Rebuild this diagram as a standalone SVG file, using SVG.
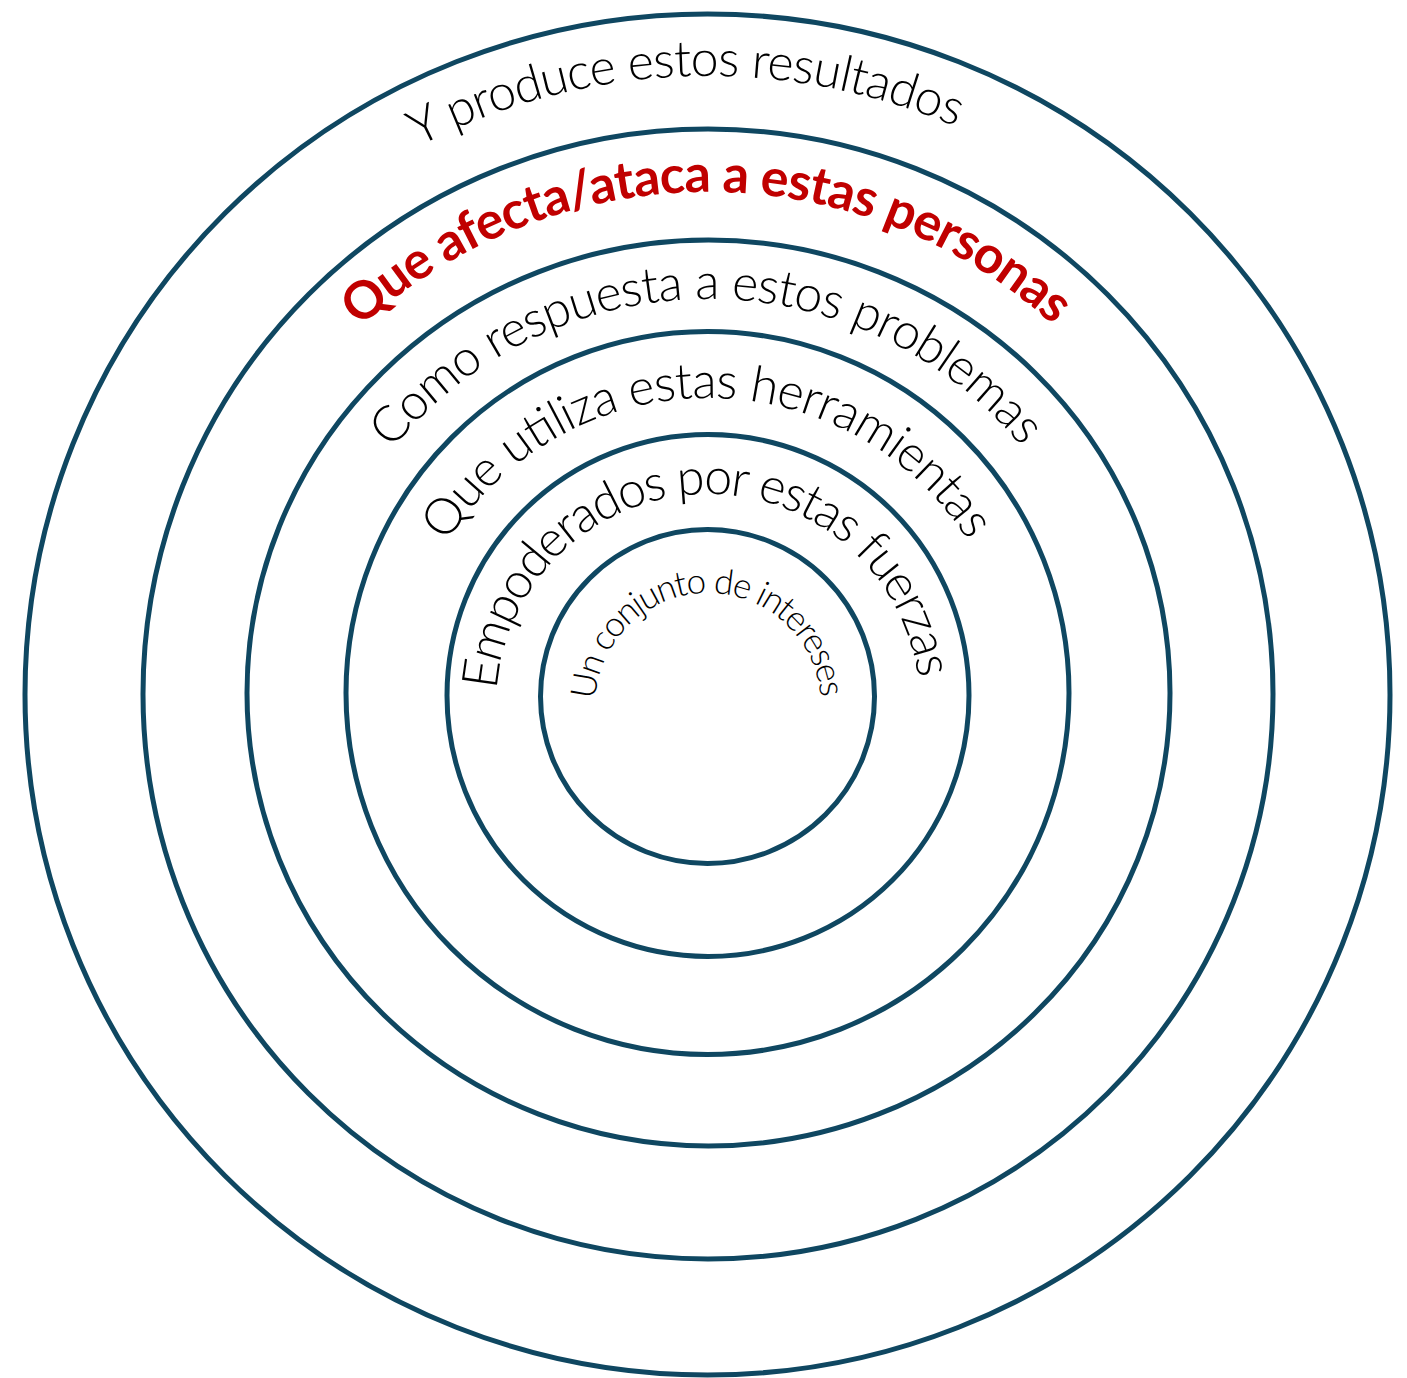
<svg xmlns="http://www.w3.org/2000/svg" xmlns:xlink="http://www.w3.org/1999/xlink" width="1407" height="1378" viewBox="0 0 1407 1378">
  <style>
    .ring { fill: none; stroke: #0F4761; stroke-width: 5; }
    .lbl { font-family: Lato, "Open Sans", "Noto Sans", sans-serif; font-weight: 300; font-size: 50px; fill: #000000; }
    .small { font-size: 35px; }
    .red { font-weight: 700; font-size: 52px; fill: #C00000; }
  </style>
  <defs>
    <path id="p1" d="M708,819 A113,113 0 1,1 708,593 A113,113 0 1,1 708,819"/>
    <path id="p2" d="M708,918 A212,212 0 1,1 708,494 A212,212 0 1,1 708,918"/>
    <path id="p3" d="M708,1014 A308,308 0 1,1 708,398 A308,308 0 1,1 708,1014"/>
    <path id="p4" d="M708,1113 A407,407 0 1,1 708,299 A407,407 0 1,1 708,1113"/>
    <path id="p5" d="M708,1220 A514,514 0 1,1 708,192 A514,514 0 1,1 708,1220"/>
    <path id="p6" d="M708,1336 A630,630 0 1,1 708,76 A630,630 0 1,1 708,1336"/>
  </defs>
  <rect width="1407" height="1378" fill="#ffffff"/>
  <g id="ring6">
    <ellipse class="ring" cx="707.5" cy="694.5" rx="682.5" ry="680.5"/>
    <text class="lbl"><textPath xlink:href="#p6" href="#p6" startOffset="1956" text-anchor="middle" textLength="556" lengthAdjust="spacing">Y produce estos resultados</textPath></text>
  </g>
  <g id="ring5">
    <circle class="ring" cx="708" cy="694" r="565"/>
    <text class="lbl red"><textPath xlink:href="#p5" href="#p5" startOffset="1613" text-anchor="middle" textLength="761" lengthAdjust="spacing">Que afecta/ataca a estas personas</textPath></text>
  </g>
  <g id="ring4">
    <ellipse class="ring" cx="708.5" cy="693" rx="461.5" ry="453"/>
    <text class="lbl"><textPath xlink:href="#p4" href="#p4" startOffset="1276.5" text-anchor="middle" textLength="720" lengthAdjust="spacing">Como respuesta a estos problemas</textPath></text>
  </g>
  <g id="ring3">
    <circle class="ring" cx="707.5" cy="693" r="361.5"/>
    <text class="lbl"><textPath xlink:href="#p3" href="#p3" startOffset="966.5" text-anchor="middle" textLength="621" lengthAdjust="spacing">Que utiliza estas herramientas</textPath></text>
  </g>
  <g id="ring2">
    <circle class="ring" cx="708" cy="695.5" r="261"/>
    <text class="lbl"><textPath xlink:href="#p2" href="#p2" startOffset="660" text-anchor="middle" textLength="622" lengthAdjust="spacing">Empoderados por estas fuerzas</textPath></text>
  </g>
  <g id="ring1">
    <circle class="ring" cx="707.5" cy="696.5" r="167"/>
    <text class="lbl small"><textPath xlink:href="#p1" href="#p1" startOffset="353.5" text-anchor="middle" textLength="340" lengthAdjust="spacing">Un conjunto de intereses</textPath></text>
  </g>
  <g id="connectors"/>
</svg>
